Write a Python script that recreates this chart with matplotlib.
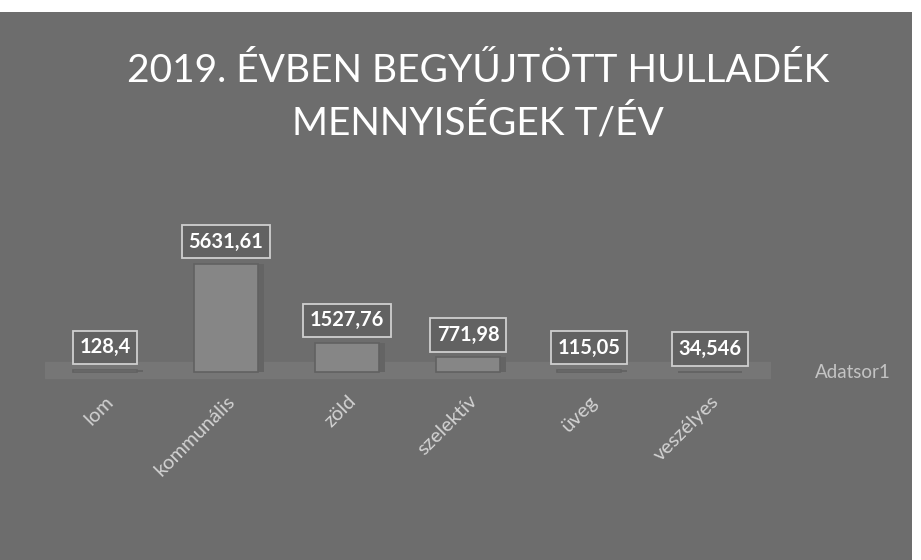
import matplotlib.pyplot as plt
from matplotlib.patches import Rectangle

# data
categories = ['lom', 'kommunális', 'zöld', 'szelektív', 'üveg', 'veszélyes']
values = [128.4, 5631.61, 1527.76, 771.98, 115.05, 34.546]
labels = ['128,4', '5631,61', '1527,76', '771,98', '115,05', '34,546']
series_name = 'Adatsor1'
title = '2019. ÉVBEN BEGYŰJTÖTT HULLADÉK\nMENNYISÉGEK T/ÉV'

bg = '#6d6d6d'
plt.rcParams['font.family'] = ['Lato', 'DejaVu Sans']

fig = plt.figure(figsize=(9.21, 5.6), dpi=100)
fig.patch.set_facecolor('white')
fig.patches.append(Rectangle((0.0, 0.0), 0.99, 0.978, transform=fig.transFigure,
                             facecolor=bg, edgecolor='none', zorder=-10))

# axes: baseline at ~372 px from top
ax = fig.add_axes([44.5 / 921, (560 - 380) / 560, 726 / 921, 150 / 560])
ax.set_facecolor('none')
x = range(len(categories))

# floor band
ax.axhspan(-300, 520, color='#767676', zorder=0)
# side faces (depth)
ax.bar([i + 0.05 for i in x], values, width=0.53, color='#646464', zorder=1)
bars = ax.bar(x, values, width=0.53, color='#868686', edgecolor='#616161',
              linewidth=1.2, zorder=2)

ax.set_xlim(-0.5, 5.5)
ax.set_ylim(-400, 7400)

for i, (v, lab) in enumerate(zip(values, labels)):
    ax.annotate(lab, (i, v), xytext=(0, 9), textcoords='offset points',
                ha='center', va='bottom', color='white', fontsize=14.5,
                fontweight='bold', zorder=5,
                bbox=dict(boxstyle='square,pad=0.33', facecolor='#626262',
                          edgecolor='#cfcfcf', linewidth=1.3))

ax.set_xticks(list(x))
ax.set_xticklabels(categories, rotation=45, ha='right', va='top',
                   rotation_mode='anchor', color='#d2d2d2', fontsize=14.5)
ax.tick_params(axis='x', length=0, pad=9)
ax.set_yticks([])
for s in ax.spines.values():
    s.set_visible(False)

fig.text(815 / 921, (560 - 372) / 560, series_name, color='#c4c4c4',
         fontsize=13.5, ha='left', va='center')

fig.text(0.519, 0.827, title, color='white', fontsize=28, ha='center',
         va='center', linespacing=1.5)

fig.savefig('out.png', dpi=100, facecolor=fig.get_facecolor())
